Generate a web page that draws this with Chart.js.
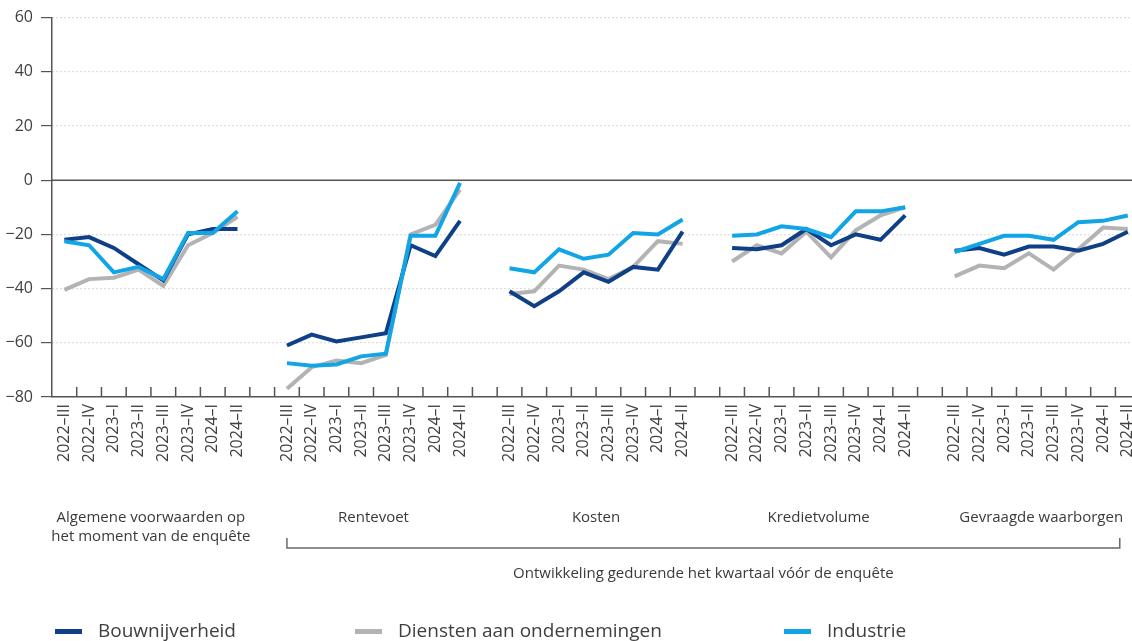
<!DOCTYPE html>
<html>
<head>
<meta charset="utf-8">
<script src="https://cdn.jsdelivr.net/npm/chart.js@4"></script>
<style>
  html, body { margin: 0; padding: 0; background: #fff; overflow: hidden; }
  #wrap { width: 1154px; height: 641px; }
</style>
</head>
<body>
<div id="wrap"><canvas id="chart" width="1154" height="641"></canvas></div>
<script>
// kwartalen per groep
const quarters = ['2022–III', '2022–IV', '2023–I', '2023–II', '2023–III', '2023–IV', '2024–I', '2024–II'];
const groups = [
  ['Algemene voorwaarden op', 'het moment van de enquête'],
  ['Rentevoet'],
  ['Kosten'],
  ['Kredietvolume'],
  ['Gevraagde waarborgen']
];
const yTicks = [60, 40, 20, 0, -20, -40, -60, -80];

// waarden per groep (8 kwartalen)
const bouwnijverheid = [
  [-22, -21, -25, -31, -37, -20, -18, -18],
  [-61, -57, -59.5, -58, -56.5, -24, -28, -15],
  [-41, -46.5, -41, -34, -37.5, -32, -33, -19],
  [-25, -25.5, -24, -18, -24, -20, -22, -13],
  [-26, -25, -27.5, -24.5, -24.5, -26, -23.5, -19]
];
const diensten = [
  [-40.5, -36.5, -36, -33, -39, -24, -19.5, -13.5],
  [-77, -69, -66.5, -67.5, -64.5, -20, -16.5, -3.5],
  [-42, -41, -31.5, -33, -36.5, -32, -22.5, -23.5],
  [-30, -24, -27, -19, -28.5, -18.5, -13, -10],
  [-35.5, -31.5, -32.5, -27, -33, -25.5, -17.5, -18]
];
const industrie = [
  [-22.5, -24, -34, -32, -36.5, -19.5, -19.5, -11.5],
  [-67.5, -68.5, -68, -65, -64, -20.5, -20.5, -1],
  [-32.5, -34, -25.5, -29, -27.5, -19.5, -20, -14.5],
  [-20.5, -20, -17, -18, -21, -11.5, -11.5, -10],
  [-26.5, -23.5, -20.5, -20.5, -22, -15.5, -15, -13]
];

const colors = { bouw: '#0f3f87', diensten: '#b3b3b3', industrie: '#12a5e6' };
const textColor = '#404040';
const font = '"Open Sans", "Noto Sans", sans-serif';

// lege categorie tussen de groepen
function flatten(arr) {
  const out = [];
  arr.forEach((g, i) => {
    if (i > 0) out.push(null);
    g.forEach(v => out.push(v));
  });
  return out;
}
const labels = flatten(groups.map(() => quarters)).map(l => l === null ? '' : l);

const decor = {
  id: 'decor',
  beforeDatasetsDraw(chart) {
    const { ctx, chartArea, scales: { y } } = chart;
    // nullijn
    const y0 = y.getPixelForValue(0);
    ctx.save();
    ctx.strokeStyle = '#555';
    ctx.lineWidth = 1.6;
    ctx.beginPath();
    ctx.moveTo(chartArea.left, y0);
    ctx.lineTo(chartArea.right, y0);
    ctx.stroke();
    ctx.restore();
  },
  afterDraw(chart) {
    const { ctx, chartArea, scales: { x } } = chart;
    const step = x.getPixelForValue(1) - x.getPixelForValue(0);
    ctx.save();
    // streepjes op de x-as, naar binnen
    ctx.strokeStyle = '#555';
    ctx.lineWidth = 1.5;
    for (let k = 1; k < labels.length; k++) {
      const bx = x.getPixelForValue(k) - step / 2;
      ctx.beginPath();
      ctx.moveTo(bx, chartArea.bottom);
      ctx.lineTo(bx, chartArea.bottom - 10);
      ctx.stroke();
    }
    // groepslabels
    ctx.fillStyle = '#3a3a3a';
    ctx.font = '15px ' + font;
    ctx.textAlign = 'center';
    ctx.textBaseline = 'middle';
    groups.forEach((g, i) => {
      const cx = (x.getPixelForValue(i * 9) + x.getPixelForValue(i * 9 + 7)) / 2;
      g.forEach((line, j) => ctx.fillText(line, cx, 518 + j * 19));
    });
    // haak onder groepen 2-5
    const bl = x.getPixelForValue(9);
    const br = x.getPixelForValue(43) - 8;
    ctx.strokeStyle = '#6a6a6a';
    ctx.lineWidth = 1.5;
    ctx.beginPath();
    ctx.moveTo(bl, 538);
    ctx.lineTo(bl, 548);
    ctx.lineTo(br, 548);
    ctx.lineTo(br, 538);
    ctx.stroke();
    ctx.fillText('Ontwikkeling gedurende het kwartaal vóór de enquête', (bl + br) / 2, 574);
    // legenda
    const items = [
      ['Bouwnijverheid', colors.bouw, 55],
      ['Diensten aan ondernemingen', colors.diensten, 355],
      ['Industrie', colors.industrie, 784]
    ];
    ctx.font = '19px ' + font;
    ctx.textAlign = 'left';
    items.forEach(([name, col, lx]) => {
      ctx.fillStyle = col;
      ctx.fillRect(lx, 629, 27, 5);
      ctx.fillStyle = textColor;
      ctx.fillText(name, lx + 43, 632);
    });
    ctx.restore();
  }
};

new Chart(document.getElementById('chart'), {
  type: 'line',
  data: {
    labels: labels,
    datasets: [
      { label: 'Bouwnijverheid', data: flatten(bouwnijverheid), borderColor: colors.bouw, order: 2 },
      { label: 'Diensten aan ondernemingen', data: flatten(diensten), borderColor: colors.diensten, order: 3 },
      { label: 'Industrie', data: flatten(industrie), borderColor: colors.industrie, order: 1 }
    ]
  },
  options: {
    responsive: false,
    animation: false,
    spanGaps: false,
    layout: { padding: { top: 17, left: 0, right: 2, bottom: 0 } },
    elements: {
      line: { borderWidth: 4, tension: 0, fill: false },
      point: { radius: 0, hoverRadius: 0 }
    },
    plugins: { legend: { display: false }, tooltip: { enabled: false } },
    scales: {
      x: {
        offset: true,
        grid: { display: false, drawTicks: false },
        border: { display: true, color: '#555', width: 1.5 },
        ticks: {
          autoSkip: false,
          minRotation: 90,
          maxRotation: 90,
          padding: 7,
          color: textColor,
          font: { family: font, size: 16 }
        },
        afterFit(scale) { scale.height = 244; }
      },
      y: {
        min: -80,
        max: 60,
        afterBuildTicks(scale) { scale.ticks = yTicks.map(v => ({ value: v })); },
        grid: { color: '#bdbdbd', tickColor: '#555', tickLength: 11, lineWidth: 1.2 },
        border: { display: true, color: '#555', width: 1.5, dash: [1, 3] },
        ticks: {
          padding: 8,
          color: textColor,
          font: { family: font, size: 16 },
          callback: v => String(v).replace('-', '−')
        },
        afterFit(scale) { scale.width = 52; }
      }
    }
  },
  plugins: [decor]
});
</script>
</body>
</html>
